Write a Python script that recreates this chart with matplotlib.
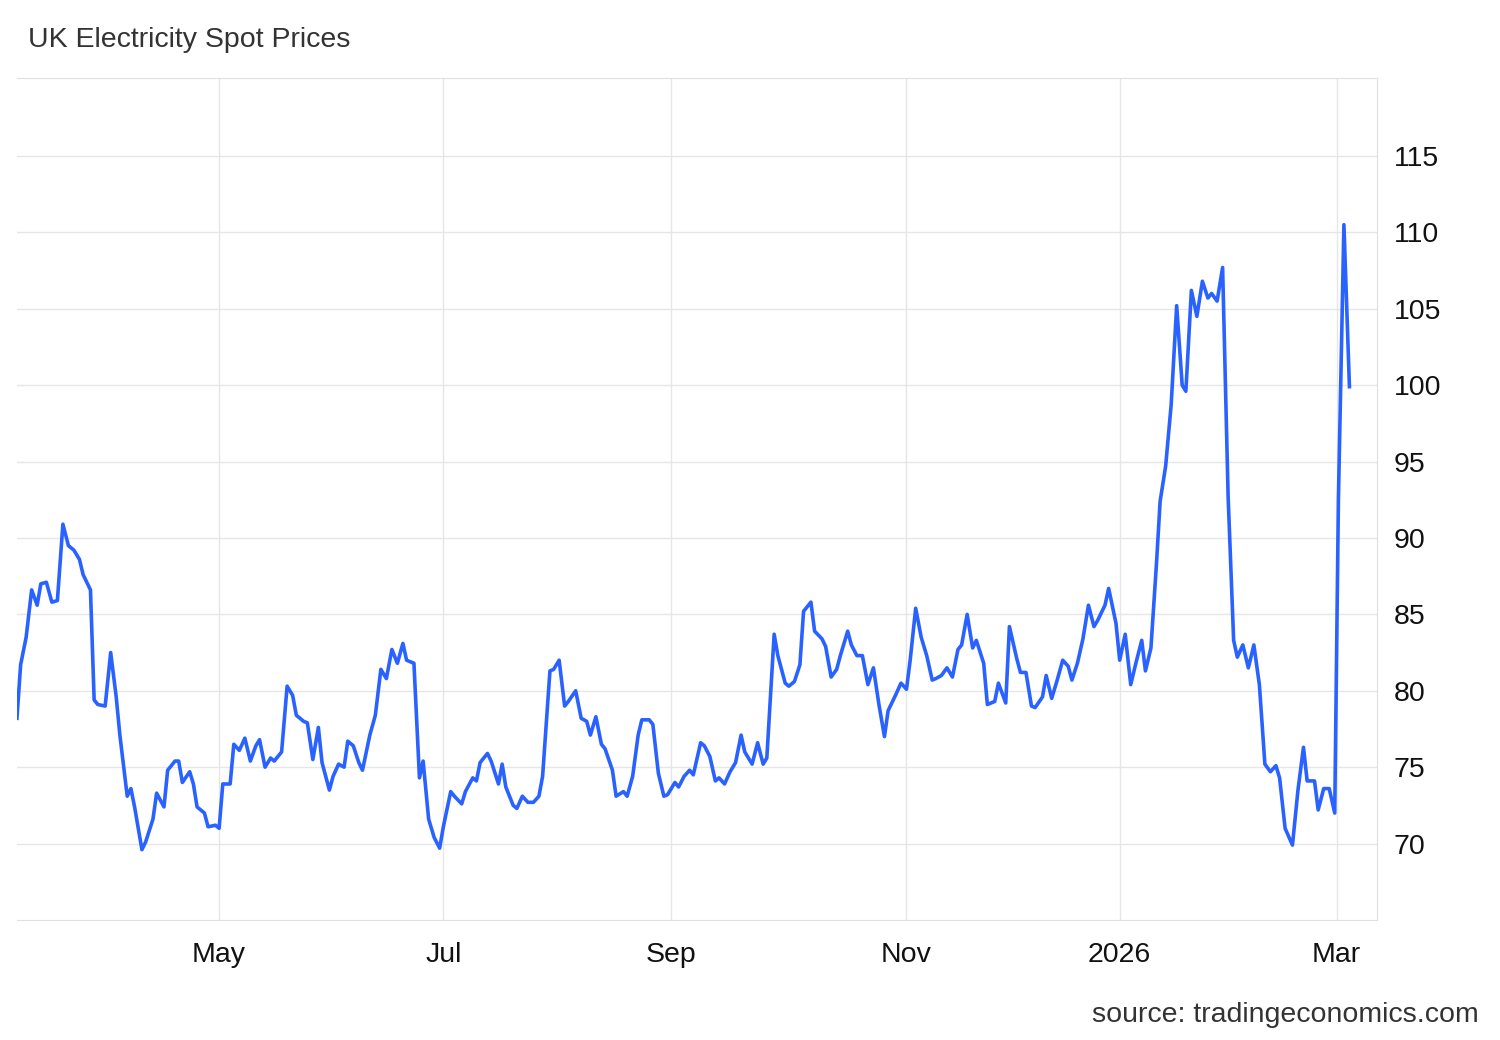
import matplotlib
matplotlib.use("Agg")
import matplotlib.pyplot as plt
import pandas as pd

start_date = "2025-03-07"
day_offsets = [0,1,2.5,4,5.5,6.5,8,9.5,11,12.5,14,15.5,17,18,20,21,22,24,25.5,27,28,30,31,32,34,35,37,38,40,41,43,44,45,47,48,49,51,52,54,55,56,58,59,60.5,62,63.5,65,66,67.5,69,70,72,73.5,75,76,78,79,80.5,82,83,85,86,87.5,89,90,91.5,93,94,96,97.5,99,100.5,102,103.5,105,106,108,109.5,110.5,112,113.5,115,116,118,119,121,122,124,125,126,128,129,131,132,133,135,136,137.5,139,140.5,142,143,145,146,147.5,149,150,152,153.5,155,156,157.5,159,160,162,163,165,166,167.5,169,170,172,173,174.5,176,177,179,180,181.5,183,184,186,187,188.5,190,191,192.5,194,195.5,197,198,200,201.5,203,204,206,207,209,210,211.5,213,214,216,217,219,220,221.5,223,224,226,227,228.5,230,231.5,233,234.5,236,237,239,240.5,242,243,244.5,246,247.5,249,250,251.5,253,254.5,256,257,258.5,260,261,263,264,266,267,269,270,272,273,274.5,276,277,279,280,281.5,283,284.5,286,287,288.5,290,291.5,293,294,296,297,299,300,301.5,303,304.5,306,307,308.5,310,311,312.5,314,315.5,317,318,319.5,321,322.5,324,325,326.5,328,329.5,331,332,333.5,335,336.5,338,339.5,341,342.5,343.5,345,347,348.5,350,351,353,354,355.5,357,358.5,359.5,361,362.5]
prices = [78.2,81.7,83.5,86.6,85.6,87.0,87.1,85.8,85.9,90.9,89.5,89.2,88.6,87.6,86.6,79.4,79.1,79.0,82.5,79.6,77.1,73.1,73.6,72.4,69.6,70.1,71.6,73.3,72.4,74.8,75.4,75.4,74.0,74.7,73.9,72.4,72.0,71.1,71.2,71.0,73.9,73.9,76.5,76.1,76.9,75.4,76.4,76.8,75.0,75.6,75.4,76.0,80.3,79.7,78.4,78.0,77.9,75.5,77.6,75.3,73.5,74.4,75.2,75.0,76.7,76.4,75.3,74.8,77.1,78.4,81.4,80.8,82.7,81.8,83.1,82.0,81.8,74.3,75.4,71.6,70.4,69.7,71.1,73.4,73.1,72.6,73.4,74.3,74.1,75.3,75.9,75.4,73.9,75.2,73.7,72.5,72.3,73.1,72.7,72.7,73.1,74.4,81.3,81.4,82.0,79.0,79.3,80.0,78.2,78.0,77.1,78.3,76.5,76.2,74.8,73.1,73.4,73.1,74.4,77.1,78.1,78.1,77.8,74.6,73.1,73.2,74.0,73.7,74.4,74.8,74.5,76.6,76.4,75.7,74.1,74.3,73.9,74.7,75.3,77.1,76.0,75.2,76.6,75.2,75.6,83.7,82.3,80.5,80.3,80.6,81.7,85.2,85.8,83.9,83.4,82.9,80.9,81.4,82.3,83.9,83.0,82.3,82.3,80.4,81.5,79.1,77.0,78.7,79.7,80.5,80.1,82.0,85.4,83.5,82.3,80.7,80.8,81.0,81.5,80.9,82.7,83.0,85.0,82.8,83.3,81.8,79.1,79.3,80.5,79.2,84.2,82.1,81.2,81.2,79.0,78.9,79.6,81.0,79.5,80.7,82.0,81.6,80.7,81.8,83.4,85.6,84.2,84.6,85.6,86.7,84.4,82.0,83.7,80.4,81.9,83.3,81.3,82.8,88.3,92.4,94.7,98.7,105.2,100.0,99.6,106.2,104.5,106.8,105.7,106.0,105.5,107.7,92.7,83.3,82.2,83.0,81.5,83.0,80.4,75.2,74.7,75.1,74.3,71.0,69.9,73.5,76.3,74.1,74.1,72.2,73.6,73.6,72.0,92.5,110.5,99.9]
y_ticks = [70, 75, 80, 85, 90, 95, 100, 105, 110, 115]
x_tick_dates = ["2025-05-01", "2025-07-01", "2025-09-01", "2025-11-04", "2026-01-01", "2026-03-01"]
x_tick_labels = ["May", "Jul", "Sep", "Nov", "2026", "Mar"]

plt.rcParams['font.family'] = ['Arial', 'Liberation Sans', 'DejaVu Sans']
dates = pd.Timestamp(start_date) + pd.to_timedelta(day_offsets, unit="D")

fig = plt.figure(figsize=(15, 10.4), dpi=100)
ax = fig.add_axes([0.0113, 0.1154, 0.9067, 0.8096])
ax.plot(dates, prices, color="#2962FF", lw=2.6)
ax.set_ylim(65.0, 120.1)
ax.set_xlim(pd.Timestamp("2025-03-07"), pd.Timestamp("2026-03-12"))
ax.yaxis.tick_right()
ax.set_yticks(y_ticks)
ax.set_xticks(pd.to_datetime(x_tick_dates))
ax.set_xticklabels(x_tick_labels)
ax.tick_params(axis="both", length=0, labelsize=20.5, colors="#111111")
ax.tick_params(axis="x", pad=16)
ax.tick_params(axis="y", pad=12)
ax.grid(True, color="#e6e6e6", lw=1)
ax.spines["left"].set_visible(False)
for s in ["top", "bottom", "right"]:
    ax.spines[s].set_color("#e0e0e0")
ax.set_axisbelow(True)
fig.text(0.019, 0.962, "UK Electricity Spot Prices", fontsize=20.5, color="#333333", va="center")
fig.text(0.986, 0.024, "source: tradingeconomics.com", fontsize=20.5, color="#333333", ha="right", va="center")
fig.savefig("out.png")
